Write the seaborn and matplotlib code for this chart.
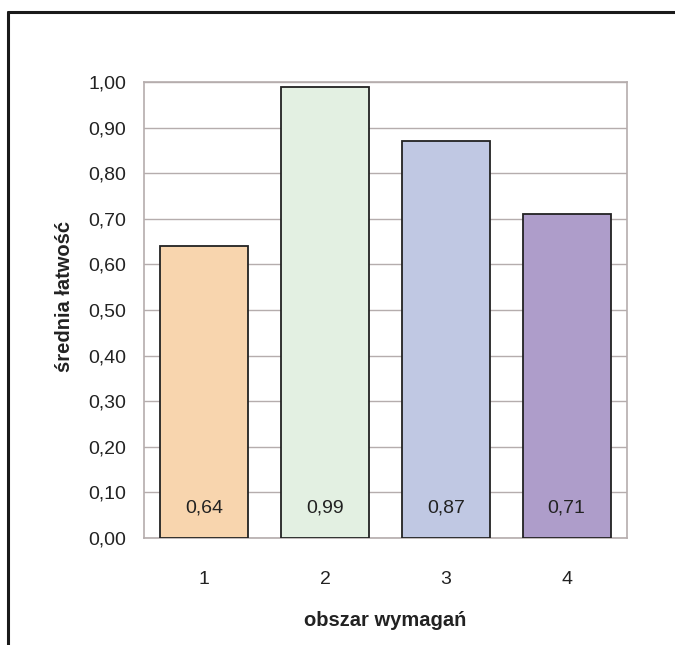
import numpy as np
import matplotlib
matplotlib.use("Agg")
import matplotlib.pyplot as plt
import seaborn as sns
import pandas as pd
from matplotlib.ticker import FixedLocator, FuncFormatter

# data
obszar = ["1", "2", "3", "4"]
latwosc = [0.64, 0.99, 0.87, 0.71]
kolory = ["#F8D5AE", "#E3F0E2", "#C0C8E3", "#AE9DCA"]

df = pd.DataFrame({"obszar": obszar, "latwosc": latwosc})

sns.set_style("white")
plt.rcParams["font.family"] = ["Liberation Sans", "DejaVu Sans"]
txt_col = "#222222"

fig = plt.figure(figsize=(6.75, 6.45), dpi=100)
ax = fig.add_axes([144 / 675, 1 - 538 / 645, (627 - 144) / 675, (538 - 82) / 645])

sns.barplot(data=df, x="obszar", y="latwosc", hue="obszar", palette=kolory, saturation=1,
            width=0.73, edgecolor="#222222", linewidth=1.3, legend=False, ax=ax, zorder=3)

# grid and frame
grid_col = "#B5ADAD"
ax.set_ylim(0, 1.0)
ax.set_xlim(-0.5, 3.5)
ax.set_yticks(np.arange(0, 1.01, 0.1))
ax.yaxis.set_major_formatter(FuncFormatter(lambda v, p: f"{v:.2f}".replace(".", ",")))
ax.grid(axis="y", color=grid_col, linewidth=1.0, zorder=0)
ax.set_axisbelow(True)
for s in ax.spines.values():
    s.set_color(grid_col)
    s.set_linewidth(1.2)
    s.set_visible(True)

# x ticks between categories
ax.xaxis.set_minor_locator(FixedLocator(np.arange(-0.5, 3.6, 1)))
ax.tick_params(axis="x", which="major", length=0, pad=24, labelsize=14, labelcolor=txt_col)
ax.tick_params(axis="x", which="minor", length=7, color=grid_col, width=1.2, direction="out")
ax.tick_params(axis="y", length=7, color=grid_col, width=1.2, direction="out", pad=6,
               labelsize=14, labelcolor=txt_col)

ax.set_xlabel("obszar wymagań", fontsize=14.5, fontweight="bold", labelpad=16, color=txt_col)
ax.set_ylabel("średnia łatwość", fontsize=14.5, fontweight="bold", color=txt_col)
ax.yaxis.set_label_coords(-0.145, 0.53)

# value labels inside the bars
for i, v in enumerate(latwosc):
    ax.text(i, 0.065, f"{v:.2f}".replace(".", ","), ha="center", va="center",
            fontsize=14, color=txt_col, zorder=4)

# outer frame (top and left edges visible)
fig.add_artist(plt.Line2D([8 / 675, 8 / 675], [0, 1 - 12 / 645], color="#1a1a1a", linewidth=2.2,
                          transform=fig.transFigure))
fig.add_artist(plt.Line2D([8 / 675, 1], [1 - 12 / 645, 1 - 12 / 645], color="#1a1a1a", linewidth=2.2,
                          transform=fig.transFigure))

fig.savefig("out.png", dpi=100)
